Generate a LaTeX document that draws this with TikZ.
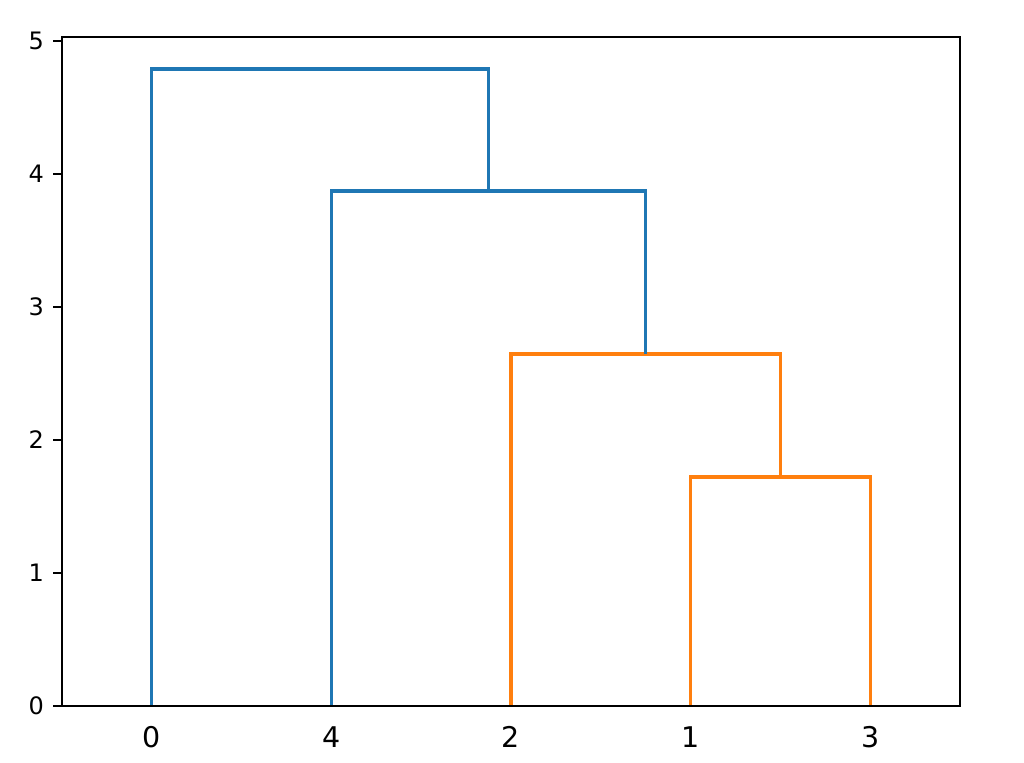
\documentclass[tikz,border=0pt]{standalone}
\usepackage{fontspec}
\setmainfont{DejaVu Sans}
\definecolor{cblue}{HTML}{1F77B4}
\definecolor{corange}{HTML}{FF7F0E}
\begin{document}
\begin{tikzpicture}[x=1pt,y=-1pt,
  link/.style={line width=3.3pt},
  spine/.style={line width=1.8pt, line cap=rect},
  tickmark/.style={line width=1.8pt},
  ylab/.style={anchor=east, font=\fontsize{24}{26}\selectfont, inner sep=0pt},
  xlab/.style={anchor=base, font=\fontsize{28.5}{30}\selectfont, inner sep=0pt}]
\useasboundingbox (0,0) rectangle (1024,762);
% leaves
\coordinate (L0) at (151.8,706);
\coordinate (L4) at (331.4,706);
\coordinate (L2) at (511.0,706);
\coordinate (L1) at (690.6,706);
\coordinate (L3) at (870.2,706);
% links
\draw[link,corange] (L1) -- (690.6,477) -- (870.2,477) -- (L3);
\draw[link,corange] (L2) -- (511.0,354) -- (780.4,354) -- (780.4,477);
\draw[link,cblue] (L4) -- (331.4,191) -- (645.7,191) -- (645.7,354);
\draw[link,cblue] (L0) -- (151.8,69) -- (488.55,69) -- (488.55,191);
% axes
\draw[spine] (62,37) rectangle (960,706);
\foreach \k in {0,...,5} {
  \draw[tickmark] (53,{706-133*\k}) -- (62,{706-133*\k});
  \node[ylab] (y\k) at (44,{706-133*\k}) {\k};
}
\node[xlab] (x0) at (151.8,747) {0};
\node[xlab] (x4) at (331.4,747) {4};
\node[xlab] (x2) at (511.0,747) {2};
\node[xlab] (x1) at (690.6,747) {1};
\node[xlab] (x3) at (870.2,747) {3};
\end{tikzpicture}
\end{document}
